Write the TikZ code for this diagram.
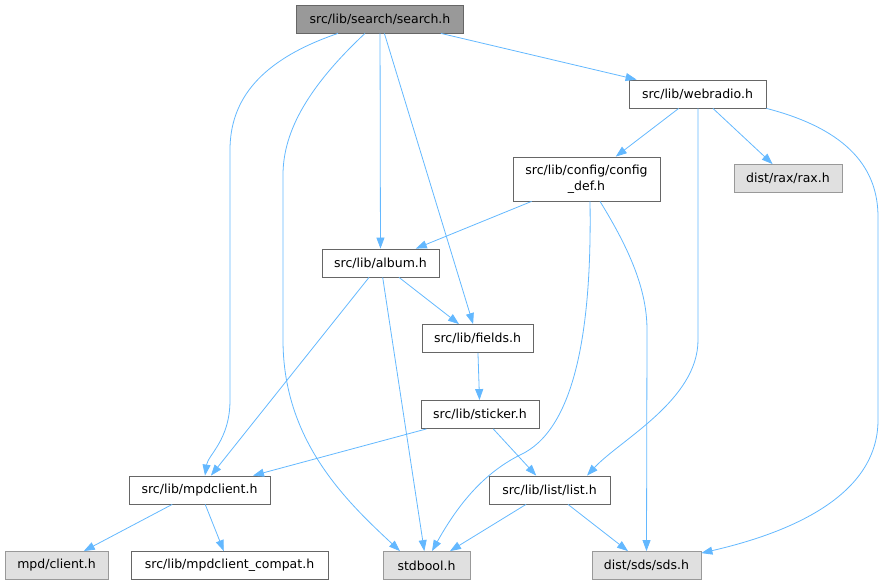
\documentclass[tikz,border=0pt]{standalone}
\usepackage{fontspec}
\setmainfont{DejaVu Sans}
\usepackage{xcolor}
\usetikzlibrary{arrows.meta}
\definecolor{edgeblue}{HTML}{63B8FF}
\definecolor{rootgray}{HTML}{999999}
\definecolor{sysgray}{HTML}{E0E0E0}

\begin{document}
\begin{tikzpicture}[x=1pt,y=-1pt]
	\tikzstyle{header} = [draw={rgb,255:red,102;green,102;blue,102}, fill=white, line width=0.8pt, minimum height=28pt, inner sep=0pt, font=\fontsize{12.5}{16}\selectfont]
	\tikzstyle{root} = [header, fill=rootgray]
	\tikzstyle{sys} = [header, draw=rootgray, fill=sysgray]
	\tikzset{edge/.style = {draw=edgeblue, line width=0.8pt, -{Triangle[length=11pt,width=8pt]}}}

	\useasboundingbox (0,0) rectangle (886,585);

	\node[root, minimum width=167pt](search) at (380,19) {src/lib/search/search.h};
	\node[header, minimum width=137pt](webradio) at (697.5,94) {src/lib/webradio.h};
	\node[header, minimum width=147pt, minimum height=44pt, align=center](config) at (586.5,179) {src/lib/config/config\\\_def.h};
	\node[sys, minimum width=108pt](rax) at (788,178.5) {dist/rax/rax.h};
	\node[header, minimum width=117pt](album) at (380.5,263) {src/lib/album.h};
	\node[header, minimum width=111pt](fields) at (477.5,338.5) {src/lib/fields.h};
	\node[header, minimum width=118pt](sticker) at (480,414.5) {src/lib/sticker.h};
	\node[header, minimum width=141pt](mpdclient) at (199.5,490) {src/lib/mpdclient.h};
	\node[header, minimum width=121pt](list) at (549.5,490) {src/lib/list/list.h};
	\node[sys, minimum width=103pt](client) at (56.5,565.5) {mpd/client.h};
	\node[header, minimum width=197pt](compat) at (229.5,565.5) {src/lib/mpdclient\_compat.h};
	\node[sys, minimum width=87pt](stdbool) at (426.5,565.5) {stdbool.h};
	\node[sys, minimum width=109pt](sds) at (646.5,565.5) {dist/sds/sds.h};

	% search.h
	\draw[edge](search) to (webradio);
	\draw[edge](search) to (album);
	\draw[edge](search) to (fields);
	\draw[edge]([xshift=-42pt]search.south) .. controls (260,60) and (230,100) .. (230,150) -- (230,400) .. controls (230,440) and (208,455) .. ([xshift=5.5pt]mpdclient.north);
	\draw[edge]([xshift=-15pt]search.south) .. controls (310,85) and (283,130) .. (283,175) -- (283,340) .. controls (283,440) and (345,500) .. ([xshift=-26.5pt]stdbool.north);

	% webradio.h
	\draw[edge](webradio) to (config);
	\draw[edge](webradio) to (rax);
	\draw[edge]([xshift=0.5pt]webradio.south) -- (698,340) .. controls (698,400) and (620,440) .. ([xshift=37.5pt]list.north);
	\draw[edge](webradio.south east) .. controls (850,130) and (878,170) .. (878,217) -- (878,420) .. controls (878,500) and (780,535) .. ([yshift=-2pt]sds.north east);

	% config_def.h
	\draw[edge](config) to (album);
	\draw[edge]([xshift=3.5pt]config.south) .. controls (592,330) and (575,430) .. (520,455) .. controls (480,475) and (455,510) .. ([xshift=5.5pt]stdbool.north);
	\draw[edge]([xshift=13.5pt]config.south) .. controls (630,250) and (647,290) .. (647,330) -- (sds.north);

	% album.h
	\draw[edge](album) to (fields);
	\draw[edge](album) to (mpdclient);
	\draw[edge](album) to (stdbool);

	\draw[edge](fields) to (sticker);
	\draw[edge](sticker) to (mpdclient);
	\draw[edge](sticker) to (list);

	\draw[edge](mpdclient) to (client);
	\draw[edge](mpdclient) to (compat);
	\draw[edge](list) to (stdbool);
	\draw[edge](list) to (sds);
\end{tikzpicture}
\end{document}
